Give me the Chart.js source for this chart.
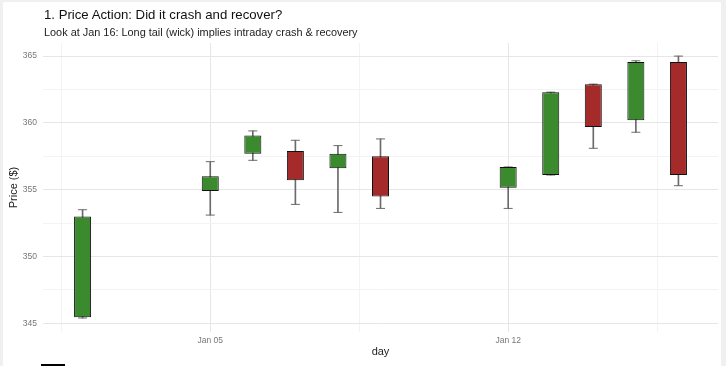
<!DOCTYPE html>
<html><head><meta charset="utf-8">
<script src="https://cdn.jsdelivr.net/npm/chart.js@4.4.1/dist/chart.umd.min.js"></script>
<style>
html,body{margin:0;padding:0;background:#f0f0f0;width:726px;height:366px;overflow:hidden;font-family:"Liberation Sans",Arial,sans-serif}
#panel{position:absolute;left:3px;top:2px;width:718px;height:364px;background:#fff}
#wrap{position:absolute;left:0;top:0;width:726px;height:366px}
#t1{position:absolute;left:44px;top:7px;font-size:13.2px;color:#111;white-space:nowrap}
#t2{position:absolute;left:44px;top:26px;font-size:10.9px;color:#222;white-space:nowrap}
#mark{position:absolute;left:41px;top:364px;width:24px;height:2px;background:#000}
</style></head><body>
<div id="panel"></div>
<div id="wrap"><canvas id="c" width="726" height="366"></canvas></div>
<div id="t1">1. Price Action: Did it crash and recover?</div>
<div id="t2">Look at Jan 16: Long tail (wick) implies intraday crash &amp; recovery</div>
<div id="mark"></div>
<script>
// Day of January
const days   = [2, 5, 6, 7, 8, 9, 12, 13, 14, 15, 16];
const openP  = [345.45, 354.9, 357.7, 357.9, 356.6, 357.5, 355.15, 356.1, 362.9, 360.2, 364.55];
const closeP = [353.0, 356.0, 359.05, 355.7, 357.7, 354.5, 356.7, 362.3, 359.7, 364.55, 356.1];
const highP  = [353.5, 357.1, 359.4, 358.7, 358.3, 358.8, 356.7, 362.3, 362.9, 364.65, 365.0];
const lowP   = [345.4, 353.1, 357.2, 353.9, 353.3, 353.6, 353.6, 356.1, 358.1, 359.3, 355.3];
const xMajorTicks = [5, 12];
const xMajorLabels = ['Jan 05', 'Jan 12'];
const xMinorTicks = [1.5, 8.5, 15.5];
const yMajorTicks = [345, 350, 355, 360, 365];
const yMinorTicks = [347.5, 352.5, 357.5, 362.5];

const GREEN = '#3c8a2e', RED = '#a52a2a', WICK = '#6b6b6b';
const isUp = openP.map((o, i) => closeP[i] >= o);
const FONT = '"Liberation Sans", Arial, sans-serif';

const gridColor = (ctx, majors) => {
  const v = ctx.tick ? ctx.tick.value : null;
  return majors.includes(v) ? '#e6e6e6' : '#f3f3f3';
};

new Chart(document.getElementById('c'), {
  type: 'bar',
  data: {
    datasets: [
      {
        label: 'body',
        data: days.map((d, i) => ({ x: d, y: [openP[i], closeP[i]] })),
        backgroundColor: isUp.map(u => u ? GREEN : RED),
        borderColor: '#111',
        borderWidth: 1,
        borderSkipped: false,
        barPercentage: 0.4,
        categoryPercentage: 1,
        grouped: false
      },
      {
        label: 'wick',
        data: days.map((d, i) => ({ x: d, y: [lowP[i], highP[i]] })),
        backgroundColor: WICK,
        barThickness: 1,
        grouped: false
      },
      {
        type: 'scatter',
        label: 'capHigh',
        data: days.map((d, i) => ({ x: d, y: highP[i] })),
        pointStyle: 'line', pointRadius: 4.5, borderColor: WICK, borderWidth: 1
      },
      {
        type: 'scatter',
        label: 'capLow',
        data: days.map((d, i) => ({ x: d, y: lowP[i] })),
        pointStyle: 'line', pointRadius: 4.5, borderColor: WICK, borderWidth: 1
      }
    ]
  },
  options: {
    responsive: false,
    animation: false,
    devicePixelRatio: 1,
    layout: { padding: { top: 43, right: 8, left: 0, bottom: 0 } },
    plugins: { legend: { display: false }, tooltip: { enabled: false }, title: { display: false } },
    scales: {
      x: {
        type: 'linear',
        offset: false,
        min: 1.07, max: 16.93,
        afterBuildTicks: s => { s.ticks = [...xMinorTicks, ...xMajorTicks].sort((a, b) => a - b).map(v => ({ value: v })); },
        afterFit: s => { s.height = 34; },
        border: { display: false },
        grid: { offset: false, drawTicks: false, color: c => gridColor(c, xMajorTicks), lineWidth: 1 },
        ticks: {
          autoSkip: false, maxRotation: 0, padding: 4,
          color: '#777', font: { family: FONT, size: 8.5 },
          callback: v => { const k = xMajorTicks.indexOf(v); return k >= 0 ? xMajorLabels[k] : ''; }
        },
        title: { display: true, text: 'day', color: '#222', font: { family: FONT, size: 11 }, padding: { top: 0, bottom: 7 } }
      },
      y: {
        min: 344.35, max: 365.98,
        afterBuildTicks: s => { s.ticks = [...yMinorTicks, ...yMajorTicks].sort((a, b) => a - b).map(v => ({ value: v })); },
        afterFit: s => { s.width = 43; },
        border: { display: false },
        grid: { drawTicks: false, color: c => gridColor(c, yMajorTicks), lineWidth: 1 },
        ticks: {
          autoSkip: false, padding: 6,
          color: '#777', font: { family: FONT, size: 8.5 },
          callback: v => yMajorTicks.includes(v) ? String(v) : ''
        },
        title: { display: true, text: 'Price ($)', color: '#222', font: { family: FONT, size: 11 }, padding: { top: 7, bottom: 0 } }
      }
    }
  }
});
</script>
</body></html>
